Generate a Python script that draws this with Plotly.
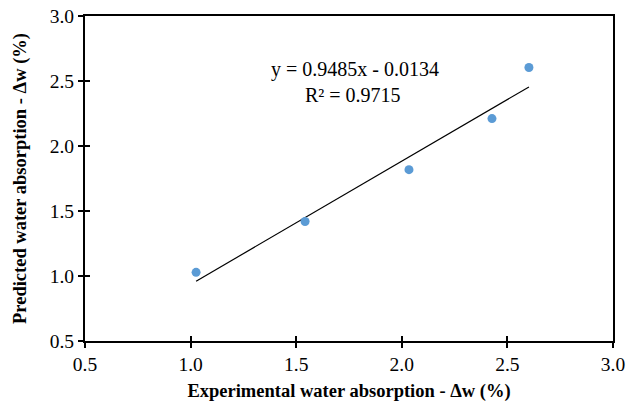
import plotly.graph_objects as go

exp_x = [1.026, 1.542, 2.034, 2.427, 2.602]
pred_y = [1.028, 1.419, 1.818, 2.211, 2.604]
slope = 0.9485
intercept = -0.0134
r2 = 0.9715
tick_vals = [0.5, 1.0, 1.5, 2.0, 2.5, 3.0]
tick_text = ["0.5", "1.0", "1.5", "2.0", "2.5", "3.0"]

x0, x1 = min(exp_x), max(exp_x)
fit_x = [x0, x1]
fit_y = [slope * v + intercept for v in fit_x]

font_family = "Liberation Serif, Times New Roman, serif"

fig = go.Figure()
fig.add_trace(go.Scatter(x=fit_x, y=fit_y, mode="lines",
                         line=dict(color="black", width=1.2), showlegend=False))
fig.add_trace(go.Scatter(x=exp_x, y=pred_y, mode="markers",
                         marker=dict(color="#5B9BD5", size=9), showlegend=False))

axis_common = dict(range=[0.5, 3.0], tickvals=tick_vals, ticktext=tick_text,
                   showgrid=False, zeroline=False, showline=True, automargin=False,
                   linecolor="black", linewidth=2, mirror=True,
                   ticks="outside", ticklen=5, tickwidth=1.5, tickcolor="black",
                   tickfont=dict(family=font_family, size=19.5, color="black"))

fig.update_layout(
    width=627, height=406,
    margin=dict(l=85, r=14, t=16, b=65),
    paper_bgcolor="white", plot_bgcolor="white",
    xaxis=dict(**axis_common,
               title=dict(text="<b>Experimental water absorption - Δw (%)</b>",
                          font=dict(family=font_family, size=18.5, color="black"),
                          standoff=10)),
    yaxis=dict(**axis_common,
               title=dict(text="<b>Predicted water absorption - Δw (%)</b>",
                          font=dict(family=font_family, size=18.5, color="black"),
                          standoff=18)),
    xaxis2=dict(range=[0.5, 3.0], tickvals=tick_vals, overlaying="x",
                showticklabels=False, showgrid=False, zeroline=False,
                ticks="inside", ticklen=5, tickwidth=1.5, tickcolor="black"),
    yaxis2=dict(range=[0.5, 3.0], tickvals=tick_vals, overlaying="y",
                showticklabels=False, showgrid=False, zeroline=False,
                ticks="inside", ticklen=5, tickwidth=1.5, tickcolor="black"),
)
fig.add_trace(go.Scatter(x=[None], y=[None], xaxis="x2", yaxis="y2",
                         showlegend=False, hoverinfo="skip"))

fig.add_annotation(x=1.778, y=2.589, xref="x", yref="y",
                   text=f"y = {slope}x - {abs(intercept)}",
                   showarrow=False, xanchor="center", yanchor="middle",
                   font=dict(family=font_family, size=20, color="black"))
fig.add_annotation(x=1.769, y=2.396, xref="x", yref="y",
                   text=f"R² = {r2}",
                   showarrow=False, xanchor="center", yanchor="middle",
                   font=dict(family=font_family, size=20, color="black"))

fig.write_html("out.html")
